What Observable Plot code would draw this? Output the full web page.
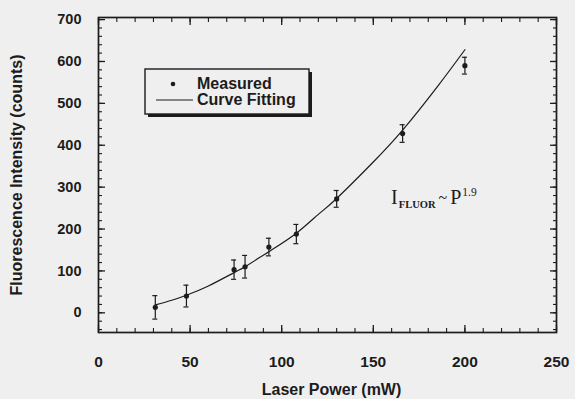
<!DOCTYPE html>
<html>
<head>
<meta charset="utf-8">
<script src="https://cdn.jsdelivr.net/npm/d3@7"></script>
<script src="https://cdn.jsdelivr.net/npm/@observablehq/plot@0.6"></script>
<style>
  html, body { margin: 0; padding: 0; background: #efefef; }
  #chart svg { display: block; }
</style>
</head>
<body>
<div id="chart"></div>
<script>
// ---- data ----
const powerMW      = [31, 48, 74, 80, 93, 108, 130, 166, 200];
const intensity    = [13, 40, 103, 110, 157, 188, 272, 428, 590];
const errorHalf    = [28, 26, 23, 27, 21, 23, 20, 21, 20];

const fitPower     = [31, 40, 48, 60, 74, 80, 93, 108, 120, 130, 150, 166, 185, 200];
const fitIntensity = [19, 30, 42, 64, 96, 110, 146, 190, 235, 273, 360, 436, 540, 628];

const xTickLabels = [0, 50, 100, 150, 200, 250];
const yTickLabels = [0, 100, 200, 300, 400, 500, 600, 700];
const xMinorTicks = d3.range(0, 251, 10);
const yMinorTicks = d3.range(-40, 701, 20);

const xTitle = "Laser Power (mW)";
const yTitle = "Fluorescence Intensity (counts)";
const legendLabels = ["Measured", "Curve Fitting"];

// ---- tables built from the arrays ----
const measured = powerMW.map((p, i) => ({p, v: intensity[i], e: errorHalf[i]}));
const fit = fitPower.map((p, i) => ({p, v: fitIntensity[i]}));

const ink = "#1c1c1c";
const bg = "#efefef";
const W = 575, H = 399;
const mL = 98, mR = 19, mT = 17, mB = 67;

const sansBold = {fontFamily: "'Liberation Sans', Arial, sans-serif", fontWeight: "bold"};

const plot = Plot.plot({
  width: W,
  height: H,
  marginLeft: mL,
  marginRight: mR,
  marginTop: mT,
  marginBottom: mB,
  style: {background: bg, color: ink, overflow: "visible"},
  x: {domain: [0, 250], label: null},
  y: {domain: [-47, 705], label: null},
  marks: [
    Plot.frame({stroke: ink, strokeWidth: 1.7}),
    // inward ticks, all four sides
    Plot.axisX({anchor: "bottom", ticks: xTickLabels, tickSize: 7, dy: -7, tickFormat: () => "", stroke: ink, strokeWidth: 1.3, label: null}),
    Plot.axisX({anchor: "bottom", ticks: xMinorTicks, tickSize: 4, dy: -4, tickFormat: () => "", stroke: ink, strokeWidth: 1.1, label: null}),
    Plot.axisX({anchor: "top", ticks: xTickLabels, tickSize: 7, dy: 7, tickFormat: () => "", stroke: ink, strokeWidth: 1.3, label: null}),
    Plot.axisX({anchor: "top", ticks: xMinorTicks, tickSize: 4, dy: 4, tickFormat: () => "", stroke: ink, strokeWidth: 1.1, label: null}),
    Plot.axisY({anchor: "left", ticks: yTickLabels, tickSize: 7, dx: 7, tickFormat: () => "", stroke: ink, strokeWidth: 1.3, label: null}),
    Plot.axisY({anchor: "left", ticks: yMinorTicks, tickSize: 4, dx: 4, tickFormat: () => "", stroke: ink, strokeWidth: 1.1, label: null}),
    Plot.axisY({anchor: "right", ticks: yTickLabels, tickSize: 7, dx: -7, tickFormat: () => "", stroke: ink, strokeWidth: 1.3, label: null}),
    Plot.axisY({anchor: "right", ticks: yMinorTicks, tickSize: 4, dx: -4, tickFormat: () => "", stroke: ink, strokeWidth: 1.1, label: null}),
    // tick labels
    Plot.axisX({anchor: "bottom", ticks: xTickLabels, tickSize: 0, tickPadding: 23, fontSize: 15.5, ...sansBold, fill: ink, label: null}),
    Plot.axisY({anchor: "left", ticks: yTickLabels, tickSize: 0, tickPadding: 17, fontSize: 14.5, ...sansBold, fill: ink, label: null}),
    // axis titles
    Plot.text([xTitle], {frameAnchor: "bottom", text: d => d, textAnchor: "middle", dx: 4, dy: 57, lineAnchor: "middle", fontSize: 16, ...sansBold, fill: ink}),
    Plot.text([yTitle], {frameAnchor: "left", text: d => d, textAnchor: "middle", rotate: -90, dx: -82, lineAnchor: "middle", fontSize: 16, ...sansBold, fill: ink}),
    // fitted curve
    Plot.line(fit, {x: "p", y: "v", curve: "natural", stroke: ink, strokeWidth: 1.2}),
    // error bars
    Plot.ruleX(measured, {x: "p", y1: d => d.v - d.e, y2: d => d.v + d.e, stroke: ink, strokeWidth: 1.2}),
    Plot.ruleY(measured, {y: d => d.v - d.e, x1: "p", x2: "p", insetLeft: -2.5, insetRight: -2.5, stroke: ink, strokeWidth: 1.2}),
    Plot.ruleY(measured, {y: d => d.v + d.e, x1: "p", x2: "p", insetLeft: -2.5, insetRight: -2.5, stroke: ink, strokeWidth: 1.2}),
    Plot.dot(measured, {x: "p", y: "v", r: 2.6, fill: ink, stroke: "none"})
  ]
});

document.getElementById("chart").appendChild(plot);

// ---- legend and annotation drawn into the same SVG ----
const svg = d3.select(plot);
const lg = svg.append("g").attr("transform", `translate(${mL + 47},${mT + 52})`)
  .attr("text-anchor", "start");
lg.append("rect").attr("x", 3).attr("y", 3).attr("width", 164).attr("height", 45).attr("fill", ink);
lg.append("rect").attr("x", 0).attr("y", 0).attr("width", 164).attr("height", 45)
  .attr("fill", bg).attr("stroke", ink).attr("stroke-width", 1.4);
lg.append("circle").attr("cx", 28).attr("cy", 15).attr("r", 2.3).attr("fill", ink);
lg.append("line").attr("x1", 11).attr("x2", 48).attr("y1", 31).attr("y2", 31).attr("stroke", ink).attr("stroke-width", 1.2);
legendLabels.forEach((t, i) => {
  lg.append("text").attr("x", 52).attr("y", 20 + i * 15.5)
    .attr("font-family", "'Liberation Sans', Arial, sans-serif").attr("font-weight", "bold")
    .attr("font-size", 16).attr("fill", ink).text(t);
});

const xs = plot.scale("x"), ys = plot.scale("y");
const ann = svg.append("text")
  .attr("text-anchor", "start")
  .attr("x", xs.apply(160)).attr("y", ys.apply(258))
  .attr("font-family", "'Liberation Serif', 'Times New Roman', serif")
  .attr("fill", ink);
ann.append("tspan").attr("font-size", 20).text("I");
ann.append("tspan").attr("font-size", 10.5).attr("font-weight", "bold").attr("dy", 4).attr("dx", 1).text("FLUOR");
ann.append("tspan").attr("font-size", 16).attr("dy", -5).attr("dx", 3).text("~");
ann.append("tspan").attr("font-size", 20).attr("dy", 1).attr("dx", 3).text("P");
ann.append("tspan").attr("font-size", 11.5).attr("dy", -8).attr("dx", 1).text("1.9");
</script>
</body>
</html>
